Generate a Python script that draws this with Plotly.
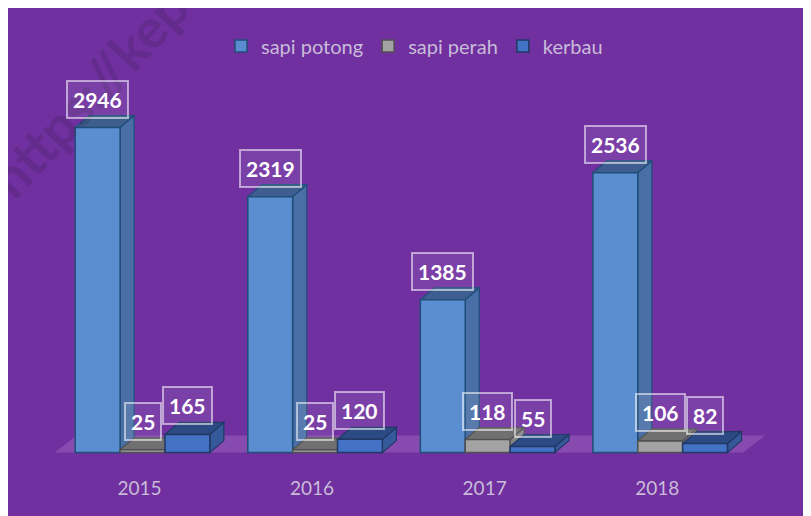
import plotly.graph_objects as go

# ---- data ----
years = ["2015", "2016", "2017", "2018"]
series_names = ["sapi potong", "sapi perah", "kerbau"]
sapi_potong = [2946, 2319, 1385, 2536]
sapi_perah = [25, 25, 118, 106]
kerbau = [165, 120, 55, 82]
all_series = [sapi_potong, sapi_perah, kerbau]

# ---- styling ----
W_FIG, H_FIG = 803, 508
M_L, M_R, M_T, M_B = 31, 30, 36, 59
PW = W_FIG - M_L - M_R
PH = H_FIG - M_T - M_B
X_RANGE = [-0.6, 3.7]
Y_RANGE = [-40, 3703]
px_per_x = PW / (X_RANGE[1] - X_RANGE[0])
px_per_y = PH / (Y_RANGE[1] - Y_RANGE[0])

BG = "#7030A0"
front = ["#5B8ED0", "#A3A3A3", "#4472C4"]
side = ["#4A6FA6", "#858585", "#36599C"]
topc = ["#3D5E8E", "#707070", "#2C4A84"]
edge = ["#1F4E79", "#505050", "#1F3864"]
TXT = "#C9BCD8"
FONT = "Lato, 'Open Sans', sans-serif"

bargap = 0.22
w = (1 - bargap) / 3
DX = 14 / px_per_x
DY = 12 / px_per_y

def ppx(px):
    return (px - M_L) / PW

def ppy(py):
    return (H_FIG - M_B - py) / PH

fig = go.Figure()
xs = list(range(len(years)))
for i, (name, vals) in enumerate(zip(series_names, all_series)):
    fig.add_trace(go.Bar(
        x=xs, y=vals, name=name,
        marker=dict(color=front[i], line=dict(color=edge[i], width=1.5)),
        hoverinfo="x+y+name",
    ))

shapes = []
# floor
fl, fr = -0.51, 3.48
fdx = 22 / px_per_x
fdy = 17 / px_per_y
shapes.append(dict(type="path", xref="x", yref="y", layer="below",
                   path=f"M {fl},0 L {fr},0 L {fr+fdx},{fdy} L {fl+fdx},{fdy} Z",
                   fillcolor="rgba(255,210,255,0.16)", line=dict(width=0)))
# 3D side and top faces
for c in xs:
    for i, vals in enumerate(all_series):
        v = vals[c]
        left = c + (i - 1.5) * w
        right = left + w
        shapes.append(dict(type="path", xref="x", yref="y", layer="below",
                           path=f"M {right},0 L {right+DX},{DY} L {right+DX},{v+DY} L {right},{v} Z",
                           fillcolor=side[i], line=dict(color=edge[i], width=1.2)))
        shapes.append(dict(type="path", xref="x", yref="y", layer="below",
                           path=f"M {left},{v} L {left+DX},{v+DY} L {right+DX},{v+DY} L {right},{v} Z",
                           fillcolor=topc[i], line=dict(color=edge[i], width=1.2)))

annotations = []
# watermark (drawn first so labels sit above it)
annotations.append(dict(
    x=ppx(80), y=ppy(84), xref="paper", yref="paper", text="<b>https://kep</b>",
    xanchor="center", yanchor="middle",
    showarrow=False, textangle=-47,
    font=dict(family=FONT, size=54, color="rgba(50,30,60,0.2)"),
))
for c in xs:
    for i, vals in enumerate(all_series):
        v = vals[c]
        annotations.append(dict(
            x=c + (i - 1) * w, y=v + DY, xref="x", yref="y",
            text=f"<b>{v}</b>", showarrow=False, yanchor="bottom", yshift=-3,
            font=dict(family=FONT, size=21, color="white"),
            bgcolor="rgba(255,255,255,0.08)", bordercolor="rgba(255,255,255,0.55)",
            borderwidth=2, borderpad=5,
        ))

fig.update_layout(
    width=W_FIG, height=H_FIG,
    margin=dict(l=M_L, r=M_R, t=M_T, b=M_B, autoexpand=False),
    paper_bgcolor=BG, plot_bgcolor="rgba(0,0,0,0)",
    barmode="group", bargap=bargap, bargroupgap=0,
    shapes=shapes, annotations=annotations,
    showlegend=True,
    legend=dict(orientation="h", xref="container", yref="container",
                x=406.5 / W_FIG, y=1 - 38 / H_FIG, xanchor="center", yanchor="middle",
                font=dict(family=FONT, size=20, color=TXT),
                bgcolor="rgba(0,0,0,0)", itemwidth=30),
    xaxis=dict(range=X_RANGE, tickvals=xs, ticktext=years, showgrid=False,
               zeroline=False, showline=False, ticks="",
               tickfont=dict(family=FONT, size=19, color=TXT),
               ticklabelstandoff=18, ticklabelshift=-3, fixedrange=True),
    yaxis=dict(range=Y_RANGE, visible=False, showgrid=False, zeroline=False,
               fixedrange=True),
)

fig.write_html("out.html")
